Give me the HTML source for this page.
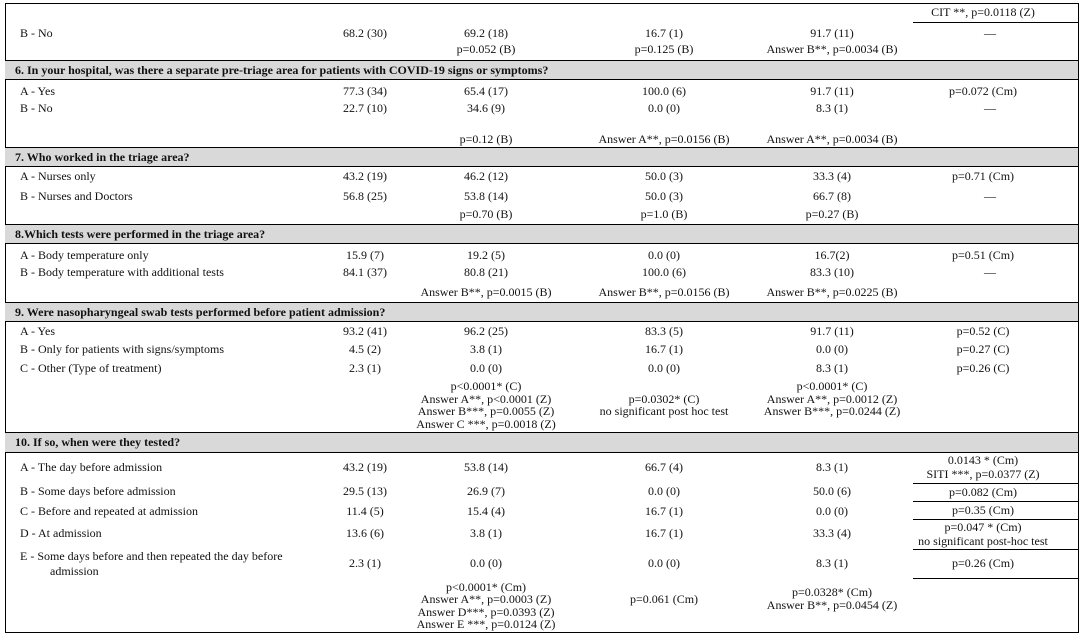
<!DOCTYPE html>
<html><head><meta charset="utf-8"><style>
html,body{margin:0;padding:0;background:#fff;}
body{width:1083px;height:638px;position:relative;overflow:hidden;font-family:"Liberation Serif","Times New Roman",serif;font-size:12px;color:#111;}
.c{position:absolute;width:300px;margin-left:-150px;text-align:center;line-height:14px;height:14px;margin-top:-7px;white-space:nowrap;}
.l{position:absolute;line-height:14px;height:14px;margin-top:-7px;white-space:nowrap;}
.h{position:absolute;left:15px;line-height:14px;height:14px;margin-top:-7px;white-space:nowrap;font-weight:bold;}
.band{position:absolute;left:5px;width:1073px;background:#d9d9d9;border-top:1px solid #000;border-bottom:1px solid #000;}
.hl{position:absolute;left:913px;width:165px;height:1px;background:#000;}
.frame{position:absolute;left:5px;top:3px;width:1074px;height:630px;border:1px solid #000;box-sizing:border-box;}
</style></head><body>
<div class="frame"></div>

<!-- top section -->
<div class="c" style="left:983px;top:12px">CIT **, p=0.0118 (Z)</div>
<div class="hl" style="top:22px"></div>
<div class="l" style="left:20px;top:33px">B - No</div>
<div class="c" style="left:365px;top:33px">68.2 (30)</div>
<div class="c" style="left:486px;top:33px">69.2 (18)</div>
<div class="c" style="left:664px;top:33px">16.7 (1)</div>
<div class="c" style="left:832px;top:33px">91.7 (11)</div>
<div class="c" style="left:990px;top:33px">—</div>
<div class="c" style="left:486px;top:49px">p=0.052 (B)</div>
<div class="c" style="left:664px;top:49px">p=0.125 (B)</div>
<div class="c" style="left:832px;top:49px">Answer B**, p=0.0034 (B)</div>

<!-- section 6 -->
<div class="band" style="top:60px;height:18px"></div>
<div class="h" style="top:70px">6. In your hospital, was there a separate pre-triage area for patients with COVID-19 signs or symptoms?</div>
<div class="l" style="left:20px;top:91px">A - Yes</div>
<div class="c" style="left:365px;top:91px">77.3 (34)</div>
<div class="c" style="left:486px;top:91px">65.4 (17)</div>
<div class="c" style="left:664px;top:91px">100.0 (6)</div>
<div class="c" style="left:832px;top:91px">91.7 (11)</div>
<div class="c" style="left:983px;top:91px">p=0.072 (Cm)</div>
<div class="l" style="left:20px;top:108px">B - No</div>
<div class="c" style="left:365px;top:108px">22.7 (10)</div>
<div class="c" style="left:486px;top:108px">34.6 (9)</div>
<div class="c" style="left:664px;top:108px">0.0 (0)</div>
<div class="c" style="left:832px;top:108px">8.3 (1)</div>
<div class="c" style="left:990px;top:108px">—</div>
<div class="c" style="left:486px;top:139px">p=0.12 (B)</div>
<div class="c" style="left:664px;top:139px">Answer A**, p=0.0156 (B)</div>
<div class="c" style="left:832px;top:139px">Answer A**, p=0.0034 (B)</div>

<!-- section 7 -->
<div class="band" style="top:147px;height:18px"></div>
<div class="h" style="top:157px">7. Who worked in the triage area?</div>
<div class="l" style="left:20px;top:176px">A - Nurses only</div>
<div class="c" style="left:365px;top:176px">43.2 (19)</div>
<div class="c" style="left:486px;top:176px">46.2 (12)</div>
<div class="c" style="left:664px;top:176px">50.0 (3)</div>
<div class="c" style="left:832px;top:176px">33.3 (4)</div>
<div class="c" style="left:983px;top:176px">p=0.71 (Cm)</div>
<div class="l" style="left:20px;top:196px">B - Nurses and Doctors</div>
<div class="c" style="left:365px;top:196px">56.8 (25)</div>
<div class="c" style="left:486px;top:196px">53.8 (14)</div>
<div class="c" style="left:664px;top:196px">50.0 (3)</div>
<div class="c" style="left:832px;top:196px">66.7 (8)</div>
<div class="c" style="left:990px;top:196px">—</div>
<div class="c" style="left:486px;top:214px">p=0.70 (B)</div>
<div class="c" style="left:664px;top:214px">p=1.0 (B)</div>
<div class="c" style="left:832px;top:214px">p=0.27 (B)</div>

<!-- section 8 -->
<div class="band" style="top:224px;height:18px"></div>
<div class="h" style="top:234px">8.Which tests were performed in the triage area?</div>
<div class="l" style="left:20px;top:255px">A - Body temperature only</div>
<div class="c" style="left:365px;top:255px">15.9 (7)</div>
<div class="c" style="left:486px;top:255px">19.2 (5)</div>
<div class="c" style="left:664px;top:255px">0.0 (0)</div>
<div class="c" style="left:832px;top:255px">16.7(2)</div>
<div class="c" style="left:983px;top:255px">p=0.51 (Cm)</div>
<div class="l" style="left:20px;top:272px">B - Body temperature with additional tests</div>
<div class="c" style="left:365px;top:272px">84.1 (37)</div>
<div class="c" style="left:486px;top:272px">80.8 (21)</div>
<div class="c" style="left:664px;top:272px">100.0 (6)</div>
<div class="c" style="left:832px;top:272px">83.3 (10)</div>
<div class="c" style="left:990px;top:272px">—</div>
<div class="c" style="left:486px;top:292px">Answer B**, p=0.0015 (B)</div>
<div class="c" style="left:664px;top:292px">Answer B**, p=0.0156 (B)</div>
<div class="c" style="left:832px;top:292px">Answer B**, p=0.0225 (B)</div>

<!-- section 9 -->
<div class="band" style="top:302px;height:18px"></div>
<div class="h" style="top:312px">9. Were nasopharyngeal swab tests performed before patient admission?</div>
<div class="l" style="left:20px;top:331px">A - Yes</div>
<div class="c" style="left:365px;top:331px">93.2 (41)</div>
<div class="c" style="left:486px;top:331px">96.2 (25)</div>
<div class="c" style="left:664px;top:331px">83.3 (5)</div>
<div class="c" style="left:832px;top:331px">91.7 (11)</div>
<div class="c" style="left:983px;top:331px">p=0.52 (C)</div>
<div class="l" style="left:20px;top:349px">B - Only for patients with signs/symptoms</div>
<div class="c" style="left:365px;top:349px">4.5 (2)</div>
<div class="c" style="left:486px;top:349px">3.8 (1)</div>
<div class="c" style="left:664px;top:349px">16.7 (1)</div>
<div class="c" style="left:832px;top:349px">0.0 (0)</div>
<div class="c" style="left:983px;top:349px">p=0.27 (C)</div>
<div class="l" style="left:20px;top:368px">C - Other (Type of treatment)</div>
<div class="c" style="left:365px;top:368px">2.3 (1)</div>
<div class="c" style="left:486px;top:368px">0.0 (0)</div>
<div class="c" style="left:664px;top:368px">0.0 (0)</div>
<div class="c" style="left:832px;top:368px">8.3 (1)</div>
<div class="c" style="left:983px;top:368px">p=0.26 (C)</div>
<div class="c" style="left:486px;top:386px">p&lt;0.0001* (C)</div>
<div class="c" style="left:486px;top:399px">Answer A**, p&lt;0.0001 (Z)</div>
<div class="c" style="left:486px;top:411px">Answer B***, p=0.0055 (Z)</div>
<div class="c" style="left:486px;top:424px">Answer C ***, p=0.0018 (Z)</div>
<div class="c" style="left:664px;top:399px">p=0.0302* (C)</div>
<div class="c" style="left:664px;top:411px">no significant post hoc test</div>
<div class="c" style="left:832px;top:386px">p&lt;0.0001* (C)</div>
<div class="c" style="left:832px;top:399px">Answer A**, p=0.0012 (Z)</div>
<div class="c" style="left:832px;top:411px">Answer B***, p=0.0244 (Z)</div>

<!-- section 10 -->
<div class="band" style="top:432px;height:19px"></div>
<div class="h" style="top:442px">10. If so, when were they tested?</div>
<div class="l" style="left:20px;top:467px">A - The day before admission</div>
<div class="c" style="left:365px;top:467px">43.2 (19)</div>
<div class="c" style="left:486px;top:467px">53.8 (14)</div>
<div class="c" style="left:664px;top:467px">66.7 (4)</div>
<div class="c" style="left:832px;top:467px">8.3 (1)</div>
<div class="c" style="left:983px;top:460px">0.0143 * (Cm)</div>
<div class="c" style="left:983px;top:474px">SITI ***, p=0.0377 (Z)</div>
<div class="hl" style="top:483px"></div>
<div class="l" style="left:20px;top:491px">B - Some days before admission</div>
<div class="c" style="left:365px;top:491px">29.5 (13)</div>
<div class="c" style="left:486px;top:491px">26.9 (7)</div>
<div class="c" style="left:664px;top:491px">0.0 (0)</div>
<div class="c" style="left:832px;top:491px">50.0 (6)</div>
<div class="c" style="left:983px;top:492px">p=0.082 (Cm)</div>
<div class="hl" style="top:501px"></div>
<div class="l" style="left:20px;top:511px">C - Before and repeated at admission</div>
<div class="c" style="left:365px;top:511px">11.4 (5)</div>
<div class="c" style="left:486px;top:511px">15.4 (4)</div>
<div class="c" style="left:664px;top:511px">16.7 (1)</div>
<div class="c" style="left:832px;top:511px">0.0 (0)</div>
<div class="c" style="left:983px;top:510px">p=0.35 (Cm)</div>
<div class="hl" style="top:519px"></div>
<div class="l" style="left:20px;top:533px">D - At admission</div>
<div class="c" style="left:365px;top:533px">13.6 (6)</div>
<div class="c" style="left:486px;top:533px">3.8 (1)</div>
<div class="c" style="left:664px;top:533px">16.7 (1)</div>
<div class="c" style="left:832px;top:533px">33.3 (4)</div>
<div class="c" style="left:983px;top:527px">p=0.047 * (Cm)</div>
<div class="c" style="left:983px;top:541px">no significant post-hoc test</div>
<div class="hl" style="top:549px"></div>
<div class="l" style="left:20px;top:556px">E - Some days before and then repeated the day before</div>
<div class="l" style="left:50px;top:571px">admission</div>
<div class="c" style="left:365px;top:563px">2.3 (1)</div>
<div class="c" style="left:486px;top:563px">0.0 (0)</div>
<div class="c" style="left:664px;top:563px">0.0 (0)</div>
<div class="c" style="left:832px;top:563px">8.3 (1)</div>
<div class="c" style="left:983px;top:563px">p=0.26 (Cm)</div>
<div class="hl" style="top:578px"></div>
<div class="c" style="left:486px;top:587px">p&lt;0.0001* (Cm)</div>
<div class="c" style="left:486px;top:599px">Answer A**, p=0.0003 (Z)</div>
<div class="c" style="left:486px;top:612px">Answer D***, p=0.0393 (Z)</div>
<div class="c" style="left:486px;top:624px">Answer E ***, p=0.0124 (Z)</div>
<div class="c" style="left:664px;top:599px">p=0.061 (Cm)</div>
<div class="c" style="left:832px;top:592px">p=0.0328* (Cm)</div>
<div class="c" style="left:832px;top:605px">Answer B**, p=0.0454 (Z)</div>
</body></html>
